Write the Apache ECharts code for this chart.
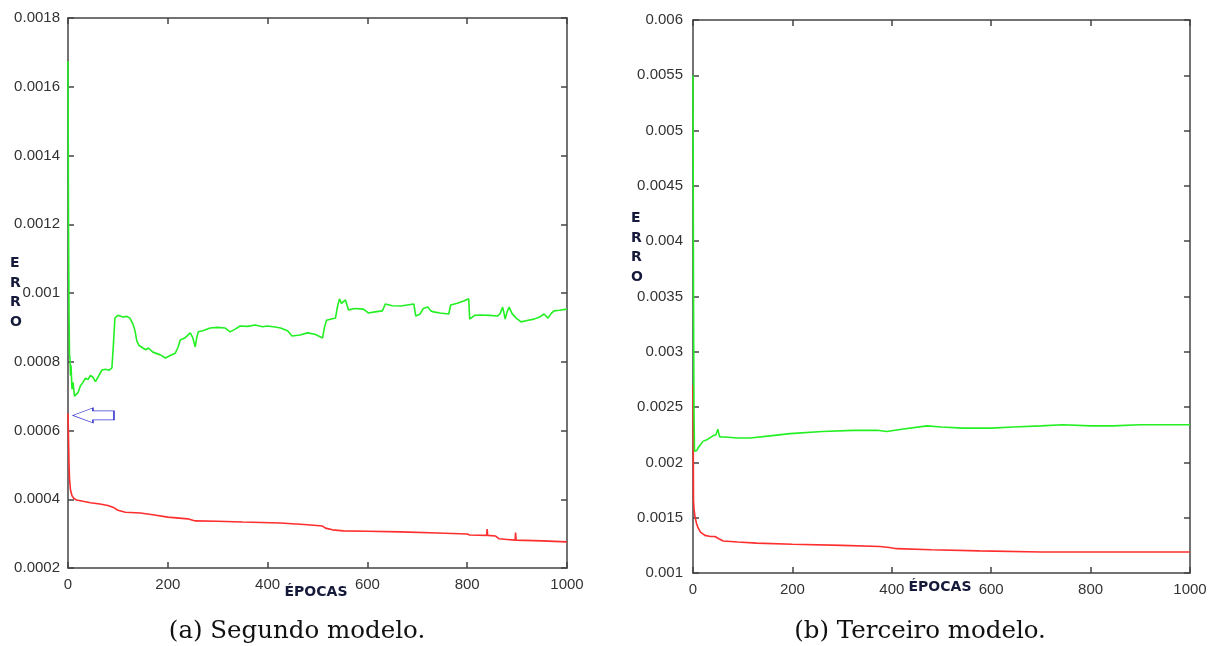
<!DOCTYPE html>
<html>
<head>
<meta charset="utf-8">
<script src="https://cdn.jsdelivr.net/npm/echarts@6/dist/echarts.min.js"></script>
<style>html,body{margin:0;padding:0;background:#fff;}#c{width:1211px;height:646px;}</style>
</head>
<body>
<div id="c"></div>
<script>
// ---- Data ----
const xTicksLabel = ['0', '200', '400', '600', '800', '1000'];
const captions = ['(a) Segundo modelo.', '(b) Terceiro modelo.'];
const xName = 'ÉPOCAS';
const yName = 'ERRO';

// Left chart (Segundo modelo): green curve
const leftGreenEpochs = [0,1,2,3,4,5,6,8,10,13,16,20,25,30,35,40,45,50,55,58,62,68,75,82,88,91,94,100,104,110,118,124,130,134,138,142,150,156,161,170,185,195,205,215,220,225,235,245,250,255,258,261,270,285,300,315,319,325,335,345,360,375,390,399,415,426,440,449,465,480,495,510,514,518,530,536,540,544,548,552,556,560,562,575,592,602,615,630,636,650,667,680,693,697,705,712,721,727,733,745,763,767,780,793,803,805,815,827,845,861,866,871,874,876,880,884,890,898,908,920,934,945,954,962,968,974,985,1000];
const leftGreenErr = [0.001675,0.00120,0.00095,0.00082,0.00081,0.00076,0.00079,0.00072,0.00074,0.00070,0.000695,0.00071,0.00073,0.00074,0.000752,0.000748,0.00076,0.000755,0.000742,0.00074,0.00076,0.000776,0.000778,0.000775,0.000782,0.00085,0.000927,0.000935,0.000936,0.00093,0.000932,0.000927,0.00091,0.000892,0.00086,0.000848,0.00084,0.000835,0.00084,0.000828,0.00082,0.000811,0.000818,0.000825,0.00084,0.000863,0.00087,0.000884,0.00087,0.000843,0.00087,0.000887,0.00089,0.000898,0.0009,0.000898,0.000898,0.000887,0.000895,0.000904,0.000903,0.000907,0.000902,0.000904,0.000901,0.000898,0.00089,0.000875,0.000878,0.000884,0.00088,0.000869,0.0009,0.000921,0.000925,0.000927,0.00096,0.000983,0.00097,0.000965,0.00098,0.000977,0.000951,0.000955,0.000953,0.000942,0.000945,0.000948,0.000968,0.000963,0.000962,0.000965,0.000968,0.000933,0.000938,0.000955,0.000959,0.000948,0.000945,0.000942,0.000939,0.000965,0.00097,0.000977,0.000983,0.000924,0.000935,0.000936,0.000935,0.000933,0.00094,0.000959,0.00094,0.000924,0.000945,0.000959,0.00094,0.000927,0.000916,0.00092,0.000924,0.00093,0.000939,0.000927,0.00094,0.000948,0.00095,0.000953];
// Left chart: red curve
const leftRedEpochs = [0,1,2,3,5,8,12,17,30,45,64,80,90,100,115,145,170,200,240,255,300,350,426,480,510,516,530,552,600,667,740,800,805,839,840,841,857,864,880,896,897,898,950,1000];
const leftRedErr = [0.00065,0.00058,0.000505,0.00046,0.000427,0.00041,0.000402,0.000398,0.000394,0.00039,0.000386,0.000382,0.000377,0.000368,0.000362,0.00036,0.000355,0.000348,0.000343,0.000337,0.000336,0.000334,0.000331,0.000326,0.000322,0.000316,0.000311,0.000308,0.000307,0.000305,0.000302,0.000299,0.000296,0.000295,0.000313,0.000295,0.000293,0.000285,0.000283,0.000281,0.000303,0.000281,0.000279,0.000276];
// Arrow annotation in the left chart (epoch, error)
const arrowAt = [51, 0.000644];

// Right chart (Terceiro modelo): green curve
const rightGreenEpochs = [0,1,2,3,5,8,10,15,20,24,30,34,40,46,50,52,54,58,64,68,90,115,155,195,260,322,370,390,420,471,500,543,600,644,700,744,800,845,900,1000];
const rightGreenErr = [0.0055,0.0035,0.00245,0.0021,0.002088,0.00211,0.00213,0.00216,0.00219,0.0022,0.00221,0.00222,0.00224,0.00225,0.0023,0.00226,0.00223,0.00224,0.00223,0.00222,0.00222,0.00222,0.00224,0.00226,0.00228,0.00229,0.00229,0.00228,0.0023,0.00233,0.00232,0.00231,0.00231,0.00232,0.00233,0.00234,0.00233,0.00233,0.00234,0.00234];
// Right chart: red curve
const rightRedEpochs = [0,1,2,4,7,10,15,24,35,44,52,61,90,128,200,300,376,395,410,480,577,700,800,1000];
const rightRedErr = [0.0027,0.00166,0.00158,0.00151,0.00145,0.00141,0.00137,0.00134,0.00133,0.00133,0.00131,0.00129,0.00128,0.00127,0.00126,0.00125,0.00124,0.00123,0.00122,0.00121,0.0012,0.00119,0.00119,0.00119];

// ---- Chart ----
const GREEN = '#22f022';
const RED = '#ff2e2e';
const AXIS = '#444';
const LABEL = '#333';
const NAVY = '#15193a';
const pair = (xs, ys) => xs.map((x, i) => [x, ys[i]]);
const fmt = d => v => String(+v.toFixed(d));

const grids = [
  { left: 68, top: 18, width: 499, height: 550 },
  { left: 693, top: 20, width: 497, height: 553 }
];
const yCfg = [
  { min: 0.0002, max: 0.0018, interval: 0.0002, dec: 4, margin: 8 },
  { min: 0.001, max: 0.006, interval: 0.0005, dec: 5, margin: 10 }
];

const xAxes = [], yAxes = [];
grids.forEach((g, i) => {
  const base = { type: 'value', gridIndex: i, min: 0, max: 1000, interval: 200,
    axisLine: { show: true, onZero: false, lineStyle: { color: AXIS, width: 1.5 } },
    axisTick: { show: true, inside: true, length: 6, lineStyle: { color: AXIS, width: 1.5 } },
    splitLine: { show: false } };
  xAxes.push(Object.assign({}, base, { position: 'bottom',
    axisLabel: { color: LABEL, fontFamily: 'Liberation Sans', fontSize: 15, margin: 9,
      formatter: v => xTicksLabel[Math.round(v / 200)] } }));
  xAxes.push(Object.assign({}, base, { position: 'top', axisLabel: { show: false } }));
  const yc = yCfg[i];
  const ybase = { type: 'value', gridIndex: i, min: yc.min, max: yc.max, interval: yc.interval,
    axisLine: { show: true, onZero: false, lineStyle: { color: AXIS, width: 1.5 } },
    axisTick: { show: true, inside: true, length: 6, lineStyle: { color: AXIS, width: 1.5 } },
    splitLine: { show: false } };
  yAxes.push(Object.assign({}, ybase, { position: 'left',
    axisLabel: { color: LABEL, fontFamily: 'Liberation Sans', fontSize: 15, margin: yc.margin, formatter: fmt(yc.dec) } }));
  yAxes.push(Object.assign({}, ybase, { position: 'right', axisLabel: { show: false } }));
});

const lineSeries = (xi, yi, data, color, extra) => Object.assign({
  type: 'line', xAxisIndex: xi, yAxisIndex: yi, data: data, showSymbol: false, symbol: 'none',
  lineStyle: { color: color, width: 1.6 }, itemStyle: { color: color }, animation: false, z: 3
}, extra || {});

const arrowPath = 'path://M0,7.5 L20,0 L20,3 L41,3 L41,12 L20,12 L20,15 Z';

const option = {
  backgroundColor: '#fff',
  animation: false,
  grid: grids.map(g => Object.assign({ containLabel: false }, g)),
  xAxis: xAxes,
  yAxis: yAxes,
  series: [
    lineSeries(0, 0, pair(leftRedEpochs, leftRedErr), RED, {
      markPoint: { symbol: arrowPath, symbolSize: [41, 15], silent: true,
        itemStyle: { color: 'rgba(255,255,255,0)', borderColor: '#3a3ad2', borderWidth: 1 },
        label: { show: false }, data: [{ coord: arrowAt }] } }),
    lineSeries(0, 0, pair(leftGreenEpochs, leftGreenErr), GREEN),
    lineSeries(2, 2, pair(rightRedEpochs, rightRedErr), RED),
    lineSeries(2, 2, pair(rightGreenEpochs, rightGreenErr), GREEN)
  ],
  graphic: [
    { type: 'text', left: 10, top: 254, style: { text: yName.split('').join('\n'), fill: NAVY,
      font: 'bold 14px "DejaVu Sans"', lineHeight: 19.5, textAlign: 'left' } },
    { type: 'text', left: 631, top: 209, style: { text: yName.split('').join('\n'), fill: NAVY,
      font: 'bold 14px "DejaVu Sans"', lineHeight: 19.5, textAlign: 'left' } },
    { type: 'text', x: 316, y: 592, style: { text: xName, fill: NAVY,
      font: 'bold 14px "DejaVu Sans"', textAlign: 'center', textVerticalAlign: 'middle' } },
    { type: 'text', x: 940, y: 587, style: { text: xName, fill: NAVY,
      font: 'bold 14px "DejaVu Sans"', textAlign: 'center', textVerticalAlign: 'middle' } },
    { type: 'text', x: 297, y: 632, style: { text: captions[0], fill: '#111',
      font: '24.5px "DejaVu Serif"', textAlign: 'center', textVerticalAlign: 'middle' } },
    { type: 'text', x: 920, y: 632, style: { text: captions[1], fill: '#111',
      font: '24.5px "DejaVu Serif"', textAlign: 'center', textVerticalAlign: 'middle' } }
  ]
};

const chart = echarts.init(document.getElementById('c'), null, { renderer: 'canvas' });
chart.setOption(option);
</script>
</body>
</html>
